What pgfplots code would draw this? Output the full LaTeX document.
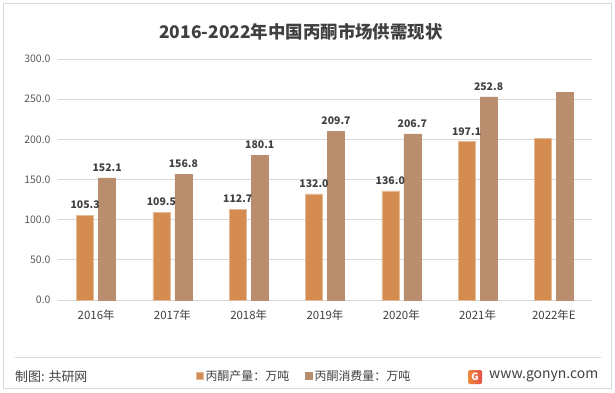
\documentclass[border=0pt]{standalone}
\usepackage{pgfplots}
\pgfplotsset{compat=1.18}
\usepackage{fontspec}
\setmainfont{Noto Sans CJK SC}
\definecolor{cOr}{HTML}{D48C50}
\definecolor{cBr}{HTML}{B98E6E}
\definecolor{gridc}{HTML}{D9D9D9}
\definecolor{txt}{HTML}{404040}
\definecolor{tick}{HTML}{595959}
\definecolor{logoA}{HTML}{F08A3C}
\definecolor{logoB}{HTML}{E2504A}
\begin{document}
\begin{tikzpicture}[x=1bp,y=1bp]
\useasboundingbox (0,0) rectangle (615,392);
\draw[draw=gridc, line width=1bp] (3.5,3.5) rectangle (611.5,388.5);
\node[font=\bfseries\fontsize{17.5}{20}\selectfont, text=txt] at (301,360) {2016-2022年中国丙酮市场供需现状};
\draw[gridc, line width=0.8bp] (15,35) -- (601,35);
\node[anchor=west, font=\fontsize{13}{15}\selectfont, text=txt, inner sep=0] at (15,15) {制图: 共研网};
\shade[left color=logoA, right color=logoB, rounded corners=1.5bp] (468,8) rectangle (482,22);
\node[font=\bfseries\fontsize{10}{10}\selectfont, text=white, inner sep=0] at (475,15) {G};
\node[anchor=west, font=\fontsize{14}{16}\selectfont, text=txt, inner sep=0] at (489,16) {www.gonyn.com};
\begin{axis}[
  at={(58bp,92bp)}, anchor=south west,
  scale only axis, width=534bp, height=241bp,
  xmin=-0.5, xmax=6.5, ymin=0, ymax=300,
  ybar, bar width=17bp,
  axis x line*=bottom, axis y line*=left,
  x axis line style={draw=gridc, line width=0.8bp},
  y axis line style={draw=none},
  ymajorgrids, grid style={draw=gridc, line width=0.8bp},
  ytick={0,50,...,300},
  xtick={0,...,6}, xticklabels={2016年,2017年,2018年,2019年,2020年,2021年,2022年E},
  major tick length=0pt,
  xticklabel style={font=\fontsize{11.5}{13}\selectfont, text=txt, yshift=-6bp},
  yticklabel style={font=\fontsize{10.5}{12}\selectfont, text=tick, xshift=-4bp},
  /pgf/number format/assume math mode=true,
  yticklabel={\pgfmathprintnumber[fixed,fixed zerofill,precision=1]{\tick}},
  every node near coord/.append style={font=\bfseries\fontsize{10.5}{12}\selectfont, text=txt, yshift=3bp},
  nodes near coords={\pgfmathprintnumber[fixed,fixed zerofill,precision=1]{\pgfplotspointmeta}},
  legend style={at={(0.461,-0.315)}, anchor=center, legend columns=2, draw=none, fill=none,
    font=\fontsize{12}{14}\selectfont, text=txt, /tikz/every even column/.append style={column sep=14bp}},
  legend image code/.code={\fill[#1] (0bp,-3.5bp) rectangle (7bp,3.5bp);},
]
\addplot[fill=cOr, draw=cOr!60!white, bar shift=-11bp] coordinates {(0,105.3) (1,109.5) (2,112.7) (3,132.0) (4,136.0) (5,197.1)};
\addlegendentry{丙酮产量：万吨}
\addplot[fill=cBr, draw=cBr, bar shift=11bp] coordinates {(0,152.1) (1,156.8) (2,180.1) (3,209.7) (4,206.7) (5,252.8)};
\addlegendentry{丙酮消费量：万吨}
\addplot[fill=cOr, draw=cOr!60!white, bar shift=-11bp, nodes near coords={}, forget plot] coordinates {(6,201.5)};
\addplot[fill=cBr, draw=cBr, bar shift=11bp, nodes near coords={}, forget plot] coordinates {(6,259.0)};
\end{axis}
\end{tikzpicture}
\end{document}
